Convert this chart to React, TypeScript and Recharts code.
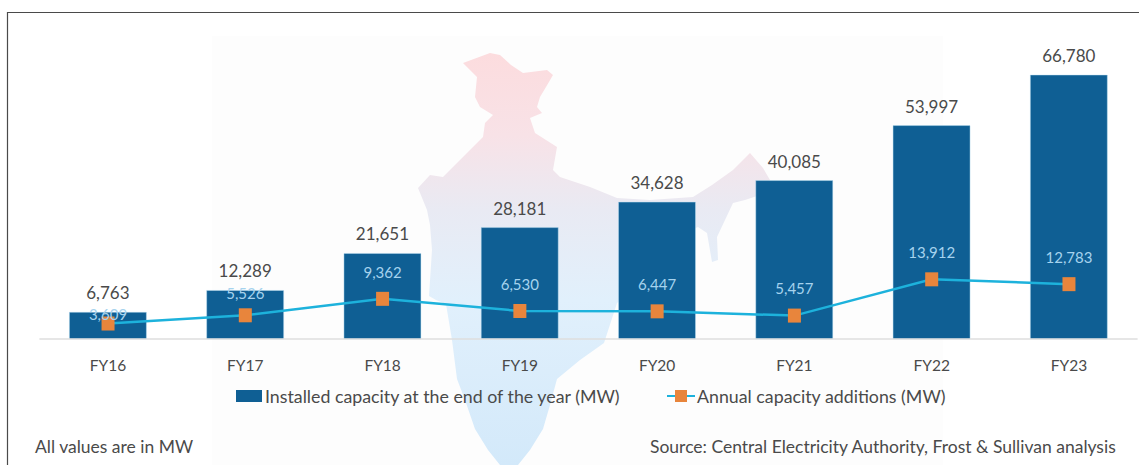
import React from "react";
import { ComposedChart, Bar, Line, XAxis, YAxis, LabelList, Legend } from "recharts";

const categories = ["FY16", "FY17", "FY18", "FY19", "FY20", "FY21", "FY22", "FY23"];
const installedCapacity = [6763, 12289, 21651, 28181, 34628, 40085, 53997, 66780];
const capacityAdditions = [3609, 5526, 9362, 6530, 6447, 5457, 13912, 12783];
const BAR_NAME = "Installed capacity at the end of the year (MW)";
const LINE_NAME = "Annual capacity additions (MW)";
const NOTE = "All values are in MW";
const SOURCE = "Source: Central Electricity Authority, Frost & Sullivan analysis";

const rows = categories.map((fy, i) => ({
  fy,
  installed: installedCapacity[i],
  additions: capacityAdditions[i],
}));

const FONT = "Lato, 'Open Sans', sans-serif";
const TEXT = "#4a4a4a";
const BAR = "#0f5f94";
const LINE = "#1db2dc";
const MARK = "#e8853c";
const MAP =
  "M463 63 L490 53 L500 55 L511 65 L523 73 L547 70 L553 75 L546 87 L540 97 L537 107 L542 113 L530 118 L535 133 L557 147 L553 170 L560 177 L590 187 L617 198 L650 200 L693 197 L712 185 L733 170 L750 153 L763 168 L770 180 L760 195 L745 200 L733 203 L725 220 L717 237 L718 260 L712 262 L707 233 L698 227 L680 235 L660 260 L640 285 L617 303 L604 343 L580 360 L557 379 L550 405 L543 429 L530 450 L518 465 L500 465 L488 450 L475 429 L465 400 L457 379 L452 340 L446 304 L436 300 L429 296 L432 250 L430 225 L427 210 L418 188 L430 175 L443 177 L483 137 L485 123 L493 115 L480 107 L475 97 L477 77 Z";

const MarkerDot = (p: any) => (
  <rect key={p.index} x={p.cx - 6.5} y={p.cy - 7} width={13} height={14} fill={MARK} />
);

const labelLift = (index: number) => (index === 0 ? -7 : index === 1 ? -20 : -25);

const LineValue = (p: any) => (
  <text
    x={p.x}
    y={p.y + labelLift(p.index)}
    textAnchor="middle"
    dominantBaseline="middle"
    fontFamily={FONT}
    fontSize={15}
    fill="#a6d3ee"
  >
    {Number(p.value).toLocaleString("en-US")}
  </text>
);

const LegendBox = (p: any) => {
  const items = p.payload || [];
  const bar = items.find((d: any) => d.value === BAR_NAME);
  const line = items.find((d: any) => d.value === LINE_NAME);
  const label: React.CSSProperties = { position: "absolute", top: 0, whiteSpace: "nowrap", fontFamily: FONT, fontSize: 17.8, lineHeight: "22px", color: TEXT };
  return (
    <div style={{ position: "relative", width: 1139, height: 22, textAlign: "left" }}>
      <div style={{ position: "absolute", left: 236, top: 5, width: 26, height: 12, background: bar?.color || BAR }} />
      <span style={{ ...label, left: 265 }}>{bar?.value}</span>
      <div style={{ position: "absolute", left: 667, top: 10, width: 28, height: 2, background: line?.color || LINE }} />
      <div style={{ position: "absolute", left: 675, top: 5, width: 12, height: 12, background: MARK }} />
      <span style={{ ...label, left: 697 }}>{line?.value}</span>
    </div>
  );
};

const noteStyle: React.CSSProperties = { position: "absolute", top: 436, whiteSpace: "nowrap", fontFamily: FONT, fontSize: 17.5, lineHeight: "22px", color: TEXT };

export default function App() {
  return (
    <div style={{ position: "absolute", left: 0, top: 0, width: 1139, height: 465, background: "#fff", overflow: "hidden" }}>
      <svg width={1139} height={465} style={{ position: "absolute", left: 0, top: 0 }}>
        <defs>
          <linearGradient id="mapFill" x1="0" y1="53" x2="0" y2="465" gradientUnits="userSpaceOnUse">
            <stop offset="0" stopColor="#fcdcde" />
            <stop offset="0.2" stopColor="#f8e2e7" />
            <stop offset="0.38" stopColor="#e9eaf3" />
            <stop offset="0.6" stopColor="#e1f0fc" />
            <stop offset="1" stopColor="#d3e9fa" />
          </linearGradient>
        </defs>
        <rect x={212} y={36} width={731} height={429} fill="#fdfdfd" />
        <path d={MAP} fill="url(#mapFill)" />
        <path d="M7.5 465 L7.5 12.5 L1139 12.5" fill="none" stroke="#4a4a4a" strokeWidth={1.2} />
      </svg>
      <div style={{ position: "absolute", left: 0, top: 0 }}>
        <ComposedChart
          width={1139}
          height={465}
          data={rows}
          margin={{ top: 62.3, right: 1.4, bottom: 96, left: 39.4 }}
        >
          <XAxis
            dataKey="fy"
            height={30}
            tickLine={false}
            axisLine={{ stroke: "#dedede", strokeWidth: 1.5 }}
            tick={{ fill: TEXT, fontSize: 15.5, fontFamily: FONT }}
            tickMargin={15}
            interval={0}
          />
          <YAxis yAxisId="capacity" hide domain={[0, 70000]} />
          <YAxis yAxisId="additions" hide domain={[0, 64500]} orientation="right" />
          <Legend
            layout="horizontal"
            verticalAlign="middle"
            align="center"
            content={<LegendBox />}
            wrapperStyle={{ position: "absolute", left: 0, top: 385, width: 1139, height: 22 }}
          />
          <Bar yAxisId="capacity" dataKey="installed" name={BAR_NAME} fill={BAR} stroke="#bfe3f5" strokeOpacity={0.45} barSize={77} isAnimationActive={false}>
            <LabelList
              dataKey="installed"
              position="top"
              offset={13}
              formatter={(v: any) => Number(v).toLocaleString("en-US")}
              style={{ fill: TEXT, fontSize: 17, fontFamily: FONT }}
            />
          </Bar>
          <Line
            yAxisId="additions"
            dataKey="additions"
            name={LINE_NAME}
            type="linear"
            stroke={LINE}
            strokeWidth={2.5}
            dot={MarkerDot}
            activeDot={false}
            isAnimationActive={false}
          >
            <LabelList dataKey="additions" content={LineValue} />
          </Line>
        </ComposedChart>
      </div>
      <div style={{ ...noteStyle, left: 35 }}>{NOTE}</div>
      <div style={{ ...noteStyle, left: 650 }}>{SOURCE}</div>
    </div>
  );
}
